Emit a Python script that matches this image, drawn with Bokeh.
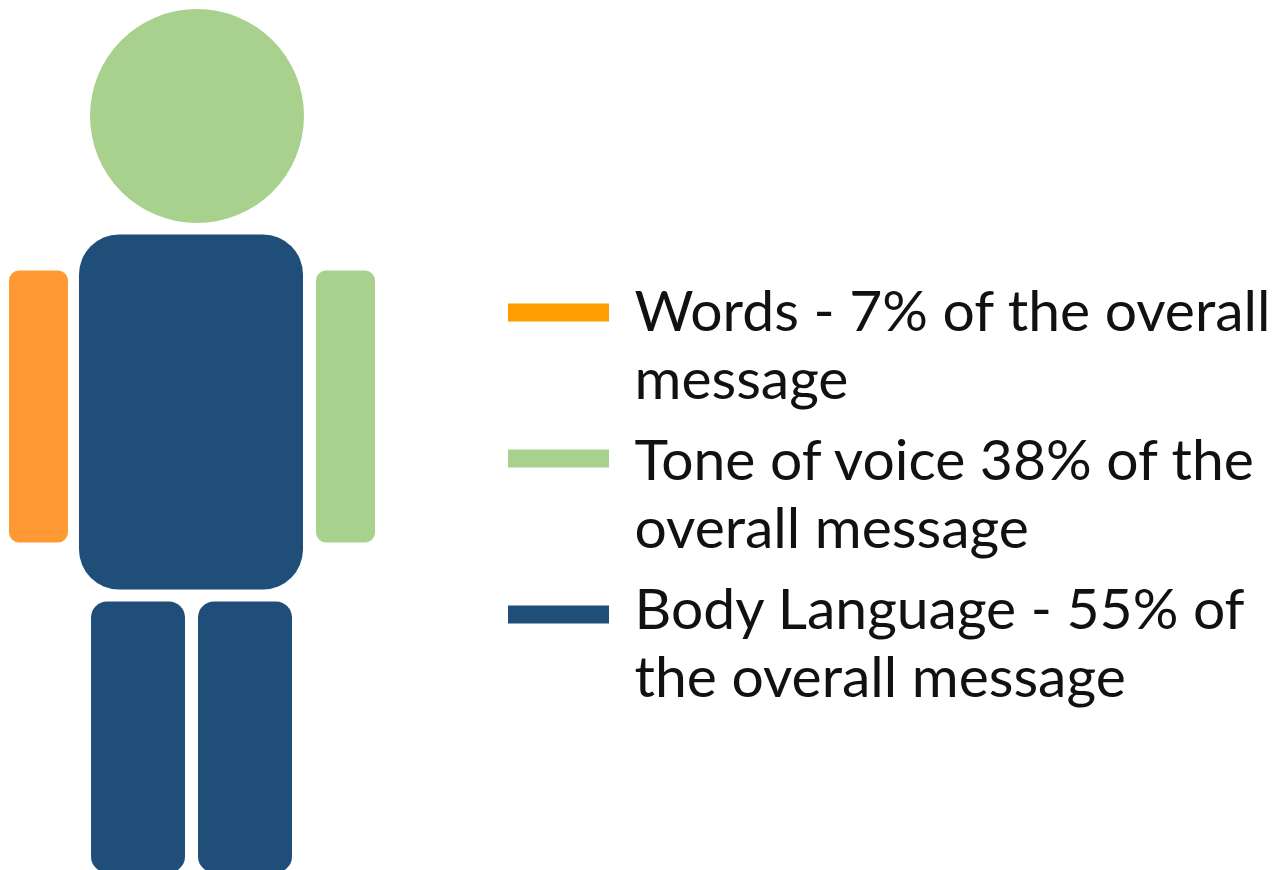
from bokeh.plotting import figure
from bokeh.models import Range1d
from bokeh.core.properties import value
from bokeh.embed import file_html
from bokeh.resources import INLINE

# Figure parts: left, right, top, bottom edges and corner radius
part_names = ["left arm", "right arm", "torso", "left leg", "right leg"]
part_left = [8.5, 315.5, 78.5, 90.5, 197.5]
part_right = [67.5, 374.5, 302.5, 184.5, 291.5]
part_top = [270, 270, 234, 601, 601]
part_bottom = [542, 542, 589, 872, 872]
part_radius = [10, 10, 40, 16, 16]
part_colors = ["#FF9933", "#A9D18E", "#1F4E79", "#1F4E79", "#1F4E79"]

head_x = [196.5]
head_y = [115.5]
head_radius = [107]
head_color = "#A9D18E"

# Legend keys
key_left = [507.5, 507.5, 507.5]
key_right = [608.5, 608.5, 608.5]
key_top = [303, 449, 605]
key_bottom = [321, 467, 623]
key_colors = ["#FF9C00", "#A9D18E", "#1F4E79"]

# Legend wording, one entry per drawn line
text_lines = [
    "Words - 7% of the overall",
    "message",
    "Tone of voice 38% of the",
    "overall message",
    "Body Language - 55% of",
    "the overall message",
]
text_x = [634, 634, 634, 634, 634, 634]
text_y = [308, 376, 457, 525, 606, 674]

p = figure(
    width=1282, height=870,
    x_range=Range1d(0, 1282), y_range=Range1d(870, 0),
    output_backend="svg", toolbar_location=None,
    min_border=0, outline_line_color=None,
)
p.axis.visible = False
p.grid.visible = False

p.circle(head_x, head_y, radius=head_radius[0], fill_color=head_color, line_color=None)

for i in range(len(part_names)):
    p.quad(
        left=[part_left[i]], right=[part_right[i]],
        top=[part_top[i]], bottom=[part_bottom[i]],
        fill_color=part_colors[i], line_color=None,
        border_radius=part_radius[i],
    )

p.quad(left=key_left, right=key_right, top=key_top, bottom=key_bottom,
       fill_color=key_colors, line_color=None)

p.text(
    x=text_x, y=text_y, text=text_lines,
    text_font=value("Lato"), text_font_size="57px",
    text_color="#111111", text_baseline="alphabetic", text_align="left",
)

open("out.html", "w").write(file_html(p, INLINE))
